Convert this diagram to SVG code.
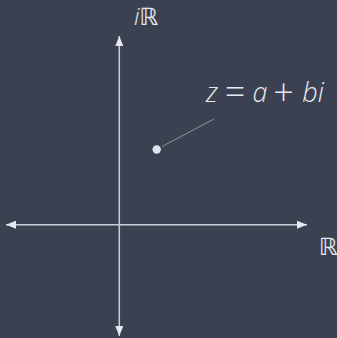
<svg xmlns="http://www.w3.org/2000/svg" width="337" height="338" viewBox="0 0 337 338">
<style>
.axis{stroke:#c9ced8;stroke-width:1.5;fill:none}
.lbl{font-family:"Open Sans","DejaVu Sans",sans-serif;font-weight:300;fill:#e5e9f0}
.it{font-style:italic}
.op{font-size:36px}
.bb{font-family:"DejaVu Sans",sans-serif;font-weight:normal}
.leader{stroke:#8f949c;stroke-width:1;fill:none}
</style>
<defs>
<marker id="ah" viewBox="0 0 10 8" refX="10" refY="4" markerWidth="10" markerHeight="8" markerUnits="userSpaceOnUse" orient="auto-start-reverse">
<path d="M0,0 L10,4 L0,8 Z" fill="#e5e9f0"/>
</marker>
</defs>
<rect width="337" height="338" fill="#3b4151"/>
<g id="connectors">
<line class="axis" x1="6" y1="224.7" x2="307" y2="224.7" marker-start="url(#ah)" marker-end="url(#ah)"/>
<line class="axis" x1="119.3" y1="36" x2="119.3" y2="336" marker-start="url(#ah)" marker-end="url(#ah)"/>
<line class="leader" x1="162" y1="146.5" x2="214" y2="119"/>
</g>
<g id="label-imag"><text class="lbl" x="134" y="25" font-size="24"><tspan class="it">i</tspan><tspan class="bb">ℝ</tspan></text></g>
<g id="label-real"><text class="lbl bb" x="319" y="255" font-size="24">ℝ</text></g>
<g id="point-z">
<circle cx="156.7" cy="149.5" r="4.2" fill="#dfe4ee"/>
<text class="lbl" font-size="27" text-anchor="middle"><tspan class="it" x="212" y="102">z</tspan><tspan class="op" x="235" y="105">=</tspan><tspan class="it" x="260" y="102">a</tspan><tspan class="op" x="283.5" y="105">+</tspan><tspan class="it" x="313" y="102">bi</tspan></text>
</g>
</svg>
